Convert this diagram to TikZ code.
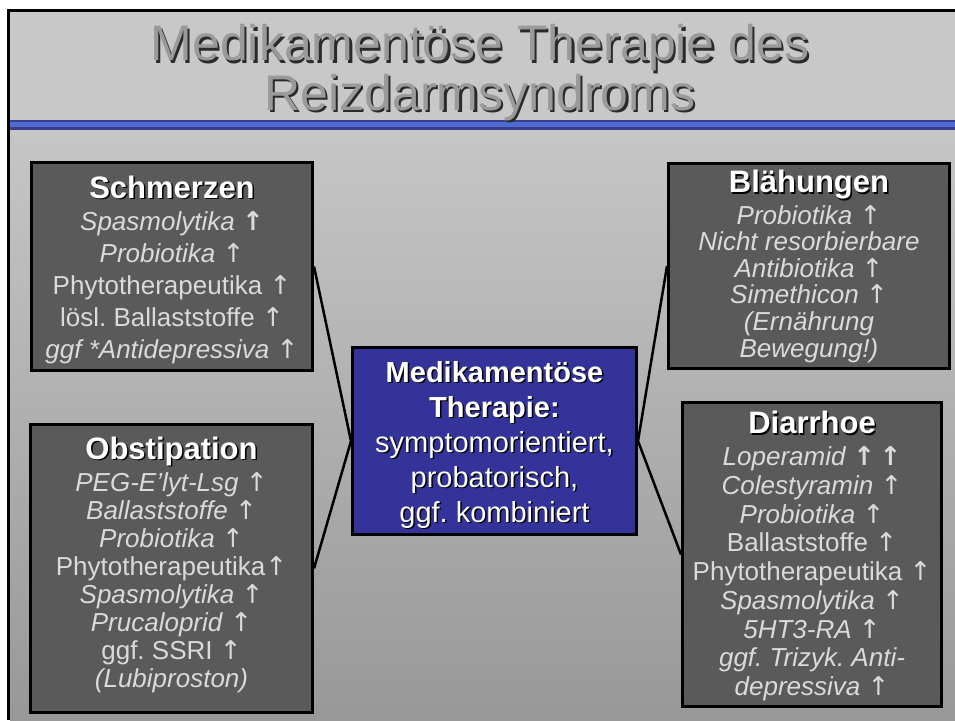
\documentclass[tikz,border=0pt]{standalone}
\usepackage{fontspec}
\setmainfont{Liberation Sans}
\newfontfamily\arrfont{DejaVu Sans}
\definecolor{hdrbg}{HTML}{C8C8C8}
\definecolor{bodytop}{HTML}{C6C6C6}
\definecolor{bodybot}{HTML}{989898}
\definecolor{boxfill}{HTML}{5A5A5A}
\definecolor{itemtxt}{HTML}{DADADA}
\definecolor{ctrfill}{HTML}{333399}
\definecolor{barouter}{HTML}{3C3C8E}
\definecolor{barinner}{HTML}{4D6ED0}
\definecolor{titlefill}{HTML}{9A9A9A}
\definecolor{titleshd}{HTML}{2A2A2A}
\newcommand\shd[3]{\makebox[0pt][l]{\hspace{#1}\raisebox{-#1}{\textcolor{#2}{#3}}}#3}
\newcommand\hd[1]{{\fontsize{31}{32}\selectfont\bfseries\color{white}\shd{1.5pt}{black}{#1}}}
\newcommand\cs[1]{\shd{1.5pt}{black}{#1}}
\newcommand\up{{\arrfont\upshape\mdseries ↑}}
\newcommand\upb{{\arrfont\upshape\bfseries ↑}}
\frenchspacing
\begin{document}
\begin{tikzpicture}[x=1pt,y=-1pt,
  dbox/.style={draw=black, line width=3pt, fill=boxfill, inner sep=0pt},
  cbox/.style={draw=black, line width=3pt, fill=ctrfill, inner sep=0pt},
  conn/.style={draw=black, line width=2.5pt},
  itemtext/.style={text=itemtxt, align=center, inner sep=0pt, anchor=north},
  ctrtext/.style={text=white, align=center, inner sep=0pt, anchor=north, font=\fontsize{29}{35}\selectfont\frenchspacing},
  titletext/.style={text=titlefill, align=center, inner sep=0pt, anchor=north, font=\fontsize{50}{47.5}\selectfont}]
\useasboundingbox (0,0) rectangle (955,720);
\fill[white] (0,0) rectangle (955,720);
\fill[hdrbg] (10,12) rectangle (955,120);
\shade[top color=bodytop, bottom color=bodybot] (10,130) rectangle (955,720);
\fill[barouter] (10,120) rectangle (955,130);
\fill[barinner] (10,122) rectangle (955,127);
\fill[black] (7,9) rectangle (955,12);
\fill[black] (7,9) rectangle (10,720);

\node[titletext] (title) at (480,24.5) {\shd{2.2pt}{titleshd}{Medikamentöse Therapie des}\\ \shd{2.2pt}{titleshd}{Reizdarmsyndroms}};

\node[dbox, minimum width=281, minimum height=208] (schm) at (172,266.5) {};
\node[dbox, minimum width=282, minimum height=288] (obst) at (171.5,568.5) {};
\node[dbox, minimum width=281, minimum height=205] (blah) at (809,266) {};
\node[dbox, minimum width=259, minimum height=304] (diar) at (812,554.5) {};
\node[cbox, minimum width=284, minimum height=187] (ctr) at (494.5,441) {};

\draw[conn] (schm.east) -- (ctr.west);
\draw[conn] (obst.east) -- (ctr.west);
\draw[conn] (blah.west) -- (ctr.east);
\draw[conn] (diar.west) -- (ctr.east);

\node[itemtext, font=\fontsize{26}{32}\selectfont\frenchspacing] (schmT) at (172,175.5) {\hd{Schmerzen}\\
\textit{Spasmolytika} \upb\\
\textit{Probiotika} \up\\
Phytotherapeutika \up\\
lösl. Ballaststoffe \up\\
\textit{ggf *Antidepressiva} \up};

\node[itemtext, font=\fontsize{26}{28}\selectfont\frenchspacing] (obstT) at (171.5,436.5) {\hd{Obstipation}\\[4pt]
\textit{PEG-E’lyt-Lsg} \up\\
\textit{Ballaststoffe} \up\\
\textit{Probiotika} \up\\
Phytotherapeutika\up\\
\textit{Spasmolytika} \up\\
\textit{Prucaloprid} \up\\
ggf. SSRI \up\\
\textit{(Lubiproston)}};

\node[itemtext, font=\fontsize{26}{26.6}\selectfont\frenchspacing] (blahT) at (809,170) {\hd{Blähungen}\\[3.4pt]
\textit{Probiotika} \up\\
\textit{Nicht resorbierbare}\\
\textit{Antibiotika} \up\\
\textit{Simethicon} \up\\
\textit{(Ernährung}\\
\textit{Bewegung!)}};

\node[itemtext, font=\fontsize{26}{28.75}\selectfont\frenchspacing] (diarT) at (812,411) {\hd{Diarrhoe}\\[3.25pt]
\textit{Loperamid} \upb\,\upb\\
\textit{Colestyramin} \up\\
\textit{Probiotika} \up\\
Ballaststoffe \up\\
Phytotherapeutika \up\\
\textit{Spasmolytika} \up\\
\textit{5HT3-RA} \up\\
\textit{ggf. Trizyk. Anti-}\\
\textit{depressiva} \up};

\node[ctrtext] (ctrT) at (494.5,361) {\textbf{\cs{Medikamentöse}}\\
\textbf{\cs{Therapie:}}\\
\cs{symptomorientiert,}\\
\cs{probatorisch,}\\
\cs{ggf. kombiniert}};
\end{tikzpicture}
\end{document}
